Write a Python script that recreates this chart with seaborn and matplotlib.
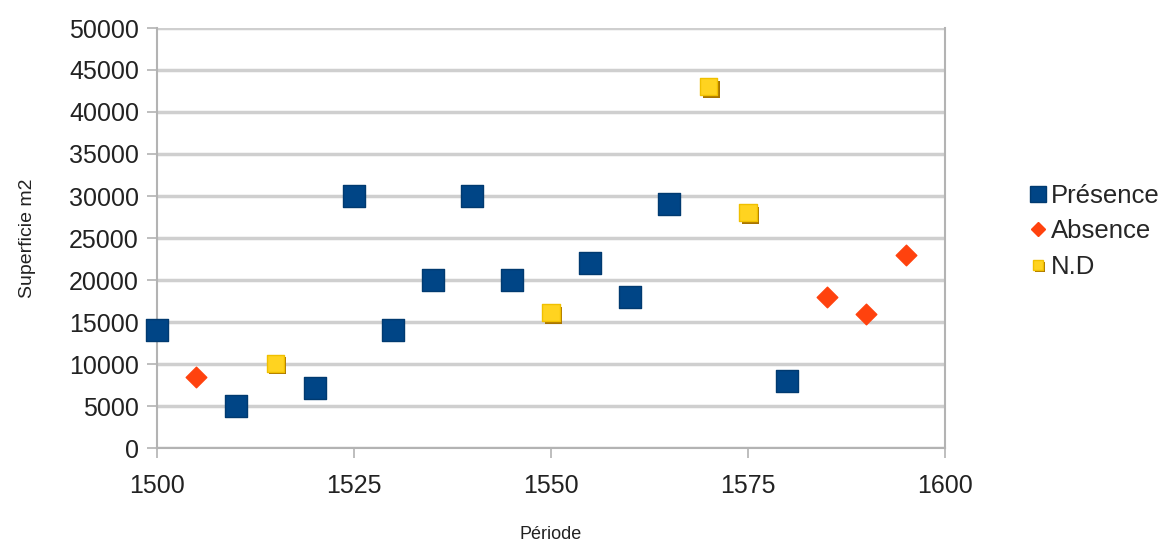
import matplotlib
matplotlib.use("Agg")
import matplotlib.pyplot as plt
import matplotlib.patheffects as pe
import seaborn as sns
import pandas as pd
from matplotlib.lines import Line2D

presence_x = [1500, 1510, 1520, 1525, 1530, 1535, 1540, 1545, 1555, 1560, 1565, 1580]
presence_y = [14000, 5000, 7200, 30000, 14000, 20000, 30000, 20000, 22000, 18000, 29000, 8000]
absence_x = [1505, 1585, 1590, 1595]
absence_y = [8500, 18000, 16000, 23000]
nd_x = [1515, 1550, 1570, 1575]
nd_y = [10100, 16100, 43000, 28000]
series_names = ["Présence", "Absence", "N.D"]
x_ticks = [1500, 1525, 1550, 1575, 1600]
y_ticks = list(range(0, 50001, 5000))

df = pd.DataFrame({
    "Période": presence_x + absence_x + nd_x,
    "Superficie": presence_y + absence_y + nd_y,
    "Série": [series_names[0]] * len(presence_x) + [series_names[1]] * len(absence_x) + [series_names[2]] * len(nd_x),
})

sns.set_style("white")
plt.rcParams["font.family"] = ["Liberation Sans", "DejaVu Sans"]

fig = plt.figure(figsize=(11.71, 5.51), dpi=100)
ax = fig.add_axes([157 / 1171, 1 - 448 / 551, (945 - 157) / 1171, (448 - 28) / 551])

colors = {"Présence": "#004586", "Absence": "#ff420e", "N.D": "#ffd320"}
markers = {"Présence": "s", "Absence": "D", "N.D": "s"}
sizes = {"Présence": 250, "Absence": 110, "N.D": 150}
edges = {"Présence": "#003a70", "Absence": "#ff420e", "N.D": "#f0c000"}

for name in series_names:
    sub = df[df["Série"] == name]
    sns.scatterplot(data=sub, x="Période", y="Superficie", ax=ax, color=colors[name],
                    marker=markers[name], s=sizes[name], edgecolor=edges[name],
                    linewidth=1.0, zorder=3, legend=False, clip_on=False)

nd_coll = ax.collections[-1]
nd_coll.set_path_effects([pe.SimplePatchShadow(offset=(1.8, -1.8), shadow_rgbFace="#a87400", alpha=1.0),
                          pe.Normal()])

ax.set_xlim(1500, 1600)
ax.set_ylim(0, 50000)
ax.set_xticks(x_ticks)
ax.set_yticks(y_ticks)
ax.yaxis.grid(True, color="#cfcfcf", linewidth=2.5, zorder=0)
ax.xaxis.grid(False)
ax.spines["top"].set_visible(False)
for side in ["left", "right", "bottom"]:
    ax.spines[side].set_color("#b3b3b3")
    ax.spines[side].set_linewidth(1.5)
ax.tick_params(axis="both", labelsize=18, colors="#b3b3b3", labelcolor="#222222",
               length=7, width=1.2, direction="out", bottom=True, left=True)
ax.tick_params(axis="x", pad=12)
ax.tick_params(axis="y", pad=6)
ax.set_xlabel("Période", fontsize=13, color="#222222", labelpad=20)
ax.set_ylabel("Superficie m2", fontsize=14, color="#222222", labelpad=24)

handles = [
    Line2D([], [], linestyle="none", marker="s", markersize=12, color="#004586", markeredgecolor="#003a70"),
    Line2D([], [], linestyle="none", marker="D", markersize=7, color="#ff420e"),
    Line2D([], [], linestyle="none", marker="s", markersize=7, color="#ffd320", markeredgecolor="#f0c000",
           path_effects=[pe.SimplePatchShadow(offset=(1.5, -1.5), shadow_rgbFace="#a87400", alpha=1.0), pe.Normal()]),
]
fig.legend(handles, series_names, loc="center left", bbox_to_anchor=(0.868, 0.58),
           frameon=False, fontsize=18.5, handletextpad=0.05, labelspacing=0.45, handlelength=0.9,
           borderaxespad=0)

fig.savefig("out.png", dpi=100)
